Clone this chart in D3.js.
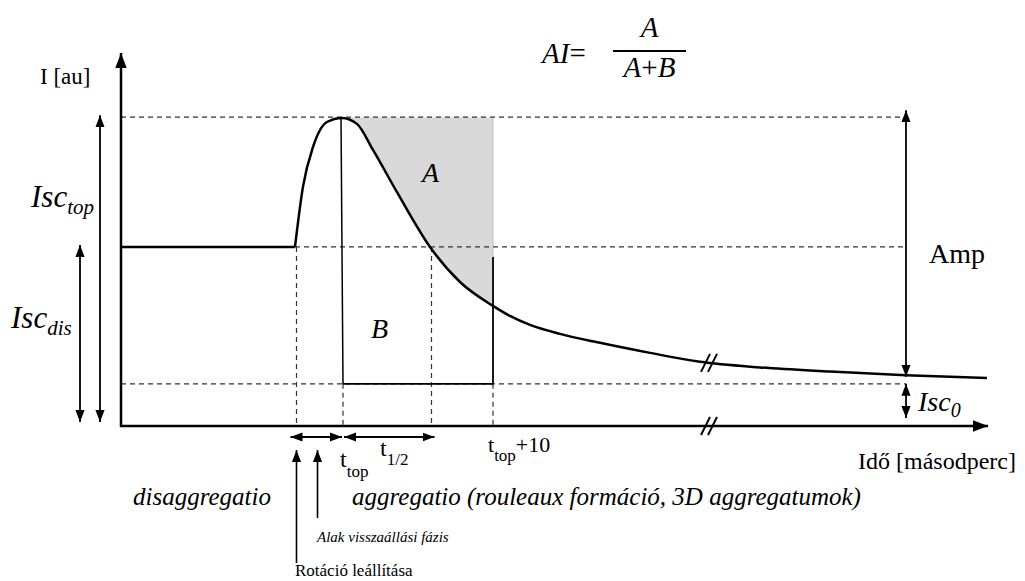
<!DOCTYPE html>
<html>
<head>
<meta charset="utf-8">
<script src="https://cdn.jsdelivr.net/npm/d3@7"></script>
<style>
  body { margin: 0; background: #fff; }
</style>
</head>
<body>
<div id="chart"></div>
<script>
// intensity curve (time in s, intensity in au)
var flatT = [0, 11.6];
var flatI = [48, 48];
var curveT = [11.6, 12.13, 12.8, 13.73, 14.73, 15.73, 16.8, 18.4, 20.6, 22.6, 24.8, 25.93, 27.27, 29.27, 31.93, 35.27, 38.6, 42.6, 47.27, 52.33, 57.73];
var curveI = [48, 64.1, 74.8, 81.5, 82.6, 81.0, 74.0, 62.7, 48, 38.6, 32.2, 29.5, 27.1, 24.7, 22.3, 19.6, 17.2, 15.7, 14.6, 13.6, 12.9];

// reference levels
var iscTop = 82.8, iscDis = 48, isc0 = 11.3;
// time markers
var tStop = 11.7, tShape = 13.1, tTop = 14.8, tHalf = 20.7, tTop10 = 24.8, tAmp = 52.33, tBreak = 39.2;

var width = 1025, height = 581;
var font = "'Liberation Serif'";
var svg = d3.select("#chart").append("svg").attr("width", width).attr("height", height);

var x = d3.scaleLinear().domain([0, 57.8]).range([121, 988]);
var y = d3.scaleLinear().domain([0, 100]).range([426, 53]);

var defs = svg.append("defs");
function marker(id, size) {
  defs.append("marker")
    .attr("id", id)
    .attr("viewBox", "0 0 10 10")
    .attr("refX", 10).attr("refY", 5)
    .attr("markerUnits", "userSpaceOnUse")
    .attr("markerWidth", size).attr("markerHeight", size)
    .attr("orient", "auto-start-reverse")
    .append("path").attr("d", "M0,1.2L10,5L0,8.8z").attr("fill", "#000");
}
marker("arr", 12);
marker("axarr", 15);

var pts = curveT.map(function(t, i) { return [t, curveI[i]]; });
var line = d3.line().x(function(d) { return x(d[0]); }).y(function(d) { return y(d[1]); }).curve(d3.curveMonotoneX);

// grey area A, clipped between t_top and t_top+10
defs.append("clipPath").attr("id", "clipA").append("rect")
  .attr("x", x(tTop)).attr("y", y(iscTop))
  .attr("width", x(tTop10) - x(tTop)).attr("height", y(0) - y(iscTop));
var area = d3.area().x(function(d) { return x(d[0]); }).y0(y(iscTop)).y1(function(d) { return y(d[1]); }).curve(d3.curveMonotoneX);
svg.append("path").datum(pts).attr("d", area).attr("fill", "#d9d9d9").attr("clip-path", "url(#clipA)");
svg.append("line").attr("x1", x(tTop10)).attr("x2", x(tTop10)).attr("y1", y(iscTop)).attr("y2", y(iscDis) + 10)
  .attr("stroke", "#b9c6d6").attr("stroke-width", 1);

// dashed guides
function dash(x1, y1, x2, y2) {
  svg.append("line").attr("x1", x1).attr("y1", y1).attr("x2", x2).attr("y2", y2)
    .attr("stroke", "#333").attr("stroke-width", 1.2).attr("stroke-dasharray", "5,4");
}
dash(x(0), y(iscTop), x(tAmp), y(iscTop));
dash(x(flatT[1]), y(iscDis), x(tAmp), y(iscDis));
dash(x(0), y(isc0), x(tAmp), y(isc0));
dash(x(tStop), y(iscDis), x(tStop), y(0));
dash(x(tTop), y(isc0), x(tTop), y(0));
dash(x(tHalf), y(iscDis), x(tHalf), y(0));
dash(x(tTop10), y(isc0), x(tTop10), y(0));

// box B
svg.append("line").attr("x1", x(tTop) - 2).attr("x2", x(tTop)).attr("y1", y(iscTop)).attr("y2", y(isc0))
  .attr("stroke", "#000").attr("stroke-width", 1.5);
svg.append("line").attr("x1", x(tTop)).attr("x2", x(tTop10)).attr("y1", y(isc0)).attr("y2", y(isc0))
  .attr("stroke", "#000").attr("stroke-width", 1.8);
svg.append("line").attr("x1", x(tTop10)).attr("x2", x(tTop10)).attr("y1", y(iscDis) + 10).attr("y2", y(isc0))
  .attr("stroke", "#000").attr("stroke-width", 1.8);

// curve
svg.append("path").datum(flatT.map(function(t, i) { return [t, flatI[i]]; }))
  .attr("d", d3.line().x(function(d) { return x(d[0]); }).y(function(d) { return y(d[1]); }))
  .attr("fill", "none").attr("stroke", "#000").attr("stroke-width", 2.5);
svg.append("path").datum(pts).attr("d", line)
  .attr("fill", "none").attr("stroke", "#000").attr("stroke-width", 2.5);

// axes
svg.append("line").attr("x1", x(0)).attr("y1", y(0) + 1).attr("x2", x(0)).attr("y2", y(100))
  .attr("stroke", "#000").attr("stroke-width", 2.5).attr("marker-end", "url(#axarr)");
svg.append("line").attr("x1", x(0) - 1).attr("y1", y(0)).attr("x2", x(57.8)).attr("y2", y(0))
  .attr("stroke", "#000").attr("stroke-width", 2.5).attr("marker-end", "url(#axarr)");

// break marks
function breakMark(cx, cy) {
  [-3.5, 3.5].forEach(function(o) {
    svg.append("line").attr("x1", cx + o - 4.5).attr("y1", cy + 9).attr("x2", cx + o + 4.5).attr("y2", cy - 9)
      .attr("stroke", "#000").attr("stroke-width", 2);
  });
}
var near = pts.reduce(function(a, b) { return Math.abs(b[0] - tBreak) < Math.abs(a[0] - tBreak) ? b : a; });
breakMark(x(tBreak), y(near[1]) + 1);
breakMark(x(tBreak), y(0));

// arrows
function arrow(x1, y1, x2, y2, both, w) {
  var l = svg.append("line").attr("x1", x1).attr("y1", y1).attr("x2", x2).attr("y2", y2)
    .attr("stroke", "#000").attr("stroke-width", w || 1.8).attr("marker-end", "url(#arr)");
  if (both) l.attr("marker-start", "url(#arr)");
}
arrow(100, y(iscTop) - 2, 100, y(0) - 4, true);
arrow(80, y(iscDis) - 2, 80, y(0) - 4, true);
arrow(906, y(iscTop) - 7, 906, y(isc0) - 7, true);
arrow(906, y(isc0), 906, y(0) - 8, true);
arrow(x(tStop) - 6, 437, x(tTop) - 1, 437, true);
arrow(x(tTop) + 1, 437, x(tHalf) + 3, 437, true);
arrow(x(tStop), 563, x(tStop), 450, false, 1.6);
arrow(x(tShape), 518, x(tShape), 450, false, 1.6);

// labels
function label(tx, ty, size, parts, italic) {
  var t = svg.append("text").attr("x", tx).attr("y", ty)
    .style("font-family", font).style("font-size", size + "px").style("fill", "#000");
  if (italic) t.style("font-style", "italic");
  parts.forEach(function(p) {
    var s = t.append("tspan").text(p.text);
    if (p.size) s.style("font-size", p.size + "px");
    if (p.dy) s.attr("dy", p.dy);
    if (p.italic !== undefined) s.style("font-style", p.italic ? "italic" : "normal");
  });
  return t;
}
label(40, 84, 23, [{text: "I [au]"}]);
label(31, 207, 31, [{text: "Isc"}, {text: "top", size: 21, dy: 7}], true);
label(11, 328, 31, [{text: "Isc"}, {text: "dis", size: 21, dy: 7}], true);
label(929, 263, 28, [{text: "Amp"}]);
label(918, 411, 28, [{text: "Isc"}, {text: "0", size: 20, dy: 6}], true);
label(422, 182, 28, [{text: "A"}], true);
label(371, 338, 28, [{text: "B"}], true);

label(542, 63, 29, [{text: "AI"}, {text: "=", italic: false}], true);
svg.append("line").attr("x1", 613).attr("x2", 686).attr("y1", 51).attr("y2", 51).attr("stroke", "#000").attr("stroke-width", 1.8);
label(649.5, 37, 29, [{text: "A"}], true).attr("text-anchor", "middle");
label(649.5, 77, 29, [{text: "A"}, {text: "+", italic: false}, {text: "B"}], true).attr("text-anchor", "middle");

label(340, 467, 24, [{text: "t"}, {text: "top", size: 17, dy: 10}]);
label(380, 456, 24, [{text: "t"}, {text: "1/2", size: 17, dy: 9}]);
label(488, 452, 22, [{text: "t"}, {text: "top", size: 17, dy: 9}, {text: "+10", dy: -9}]);
label(858, 469, 24, [{text: "Idő [másodperc]"}]);

label(133, 505, 25, [{text: "disaggregatio"}], true);
label(352, 505, 25, [{text: "aggregatio (rouleaux formáció, 3D aggregatumok)"}], true);
label(317, 542, 15, [{text: "Alak visszaállási fázis"}], true);
label(295, 576, 17, [{text: "Rotáció leállítása"}]);
</script>
</body>
</html>
